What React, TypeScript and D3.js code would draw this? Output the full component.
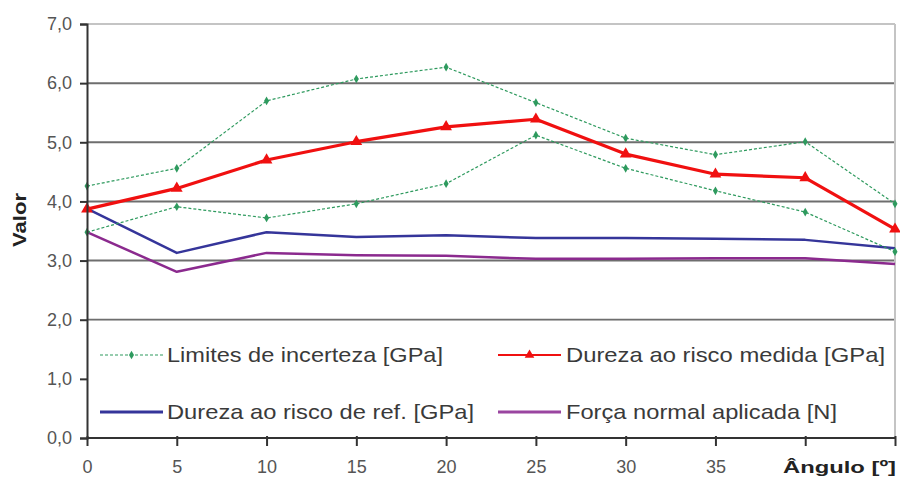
import React, { useRef, useEffect } from 'react';
import * as d3 from 'd3';

// angle categories (the last two labels are hidden under the axis title)
const angles = ['0', '5', '10', '15', '20', '25', '30', '35', '40', '45'];
const shownTickLabels = ['0', '5', '10', '15', '20', '25', '30', '35'];
const yTicks = [0, 1, 2, 3, 4, 5, 6, 7];

const limiteSuperior = [4.26, 4.56, 5.70, 6.07, 6.27, 5.67, 5.07, 4.79, 5.01, 3.96];
const limiteInferior = [3.48, 3.91, 3.72, 3.96, 4.30, 5.12, 4.56, 4.18, 3.82, 3.15];
const durezaMedida = [3.87, 4.22, 4.70, 5.01, 5.26, 5.39, 4.80, 4.46, 4.40, 3.53];
const durezaRef = [3.88, 3.13, 3.48, 3.40, 3.43, 3.38, 3.38, 3.37, 3.35, 3.21];
const forcaNormal = [3.48, 2.81, 3.13, 3.09, 3.08, 3.03, 3.03, 3.04, 3.04, 2.94];

const legendLabels = [
  'Limites de incerteza [GPa]',
  'Dureza ao risco medida [GPa]',
  'Dureza ao risco de ref. [GPa]',
  'Força normal aplicada [N]',
];

const FONT = '"Liberation Sans", Arial, sans-serif';

const Chart: React.FC = () => {
  const ref = useRef<SVGSVGElement | null>(null);

  useEffect(() => {
    if (!ref.current) return;
    const width = 900;
    const height = 479;
    const margin = { top: 24, right: 5, bottom: 41, left: 87 };

    const svg = d3.select(ref.current);
    svg.selectAll('*').remove();
    svg.attr('width', width).attr('height', height);

    const x = d3.scalePoint<string>().domain(angles).range([margin.left, width - margin.right]);
    const y = d3.scaleLinear().domain([0, 7]).range([height - margin.bottom, margin.top]);
    const x0 = margin.left;
    const x1 = width - margin.right;

    svg.append('rect').attr('width', width).attr('height', height).attr('fill', '#fff');

    // gridlines
    svg.append('g')
      .selectAll('line')
      .data(yTicks.filter(d => d > 0))
      .enter()
      .append('line')
      .attr('x1', x0)
      .attr('x2', x1)
      .attr('y1', d => y(d))
      .attr('y2', d => y(d))
      .attr('stroke', d => (d === 7 ? '#c4c4c4' : '#6e6e6e'))
      .attr('stroke-width', 2);

    // right border
    svg.append('line')
      .attr('x1', x1).attr('x2', x1)
      .attr('y1', y(7)).attr('y2', y(0))
      .attr('stroke', '#c4c4c4').attr('stroke-width', 2);

    const line = d3.line<number>()
      .x((_, i) => x(angles[i]) as number)
      .y(d => y(d));

    const addSeries = (vals: number[], color: string, w: number, dash?: string) =>
      svg.append('path')
        .datum(vals)
        .attr('fill', 'none')
        .attr('stroke', color)
        .attr('stroke-width', w)
        .attr('stroke-linejoin', 'round')
        .attr('stroke-dasharray', dash || null)
        .attr('d', line);

    addSeries(forcaNormal, '#8b2a8e', 2.5);
    addSeries(durezaRef, '#35359a', 2.5);
    addSeries(limiteSuperior, '#2e9a5e', 1.2, '3,2');
    addSeries(limiteInferior, '#2e9a5e', 1.2, '3,2');
    addSeries(durezaMedida, '#f01010', 3.2);

    // green markers
    const diamond = d3.symbol().type(d3.symbolDiamond).size(22);
    [limiteSuperior, limiteInferior].forEach(vals => {
      svg.append('g')
        .selectAll('path')
        .data(vals)
        .enter()
        .append('path')
        .attr('d', diamond)
        .attr('transform', (d, i) => `translate(${x(angles[i])},${y(d)})`)
        .attr('fill', '#2e9a5e');
    });

    // red triangles
    const tri = d3.symbol().type(d3.symbolTriangle).size(60);
    svg.append('g')
      .selectAll('path')
      .data(durezaMedida)
      .enter()
      .append('path')
      .attr('d', tri)
      .attr('transform', (d, i) => `translate(${x(angles[i])},${y(d)})`)
      .attr('fill', '#f01010');

    // legend box (covers the lower part of the plot)
    svg.append('rect')
      .attr('x', x0 + 1)
      .attr('y', y(2) + 1)
      .attr('width', x1 - x0 - 2)
      .attr('height', y(0) - y(2) - 2)
      .attr('fill', '#fff');

    const legendRows = [355, 412];
    const legendCols = [{ lx: 100, tx: 167 }, { lx: 498, tx: 566 }];
    const legendStyles = [
      { color: '#2e9a5e', w: 1.2, dash: '3,2', marker: 'diamond' },
      { color: '#f01010', w: 2.2, dash: null, marker: 'tri' },
      { color: '#35359a', w: 3, dash: null, marker: null },
      { color: '#9a45a0', w: 3, dash: null, marker: null },
    ];
    const textLengths = [276, 319, 307, 271];
    legendLabels.forEach((label, i) => {
      const col = legendCols[i % 2];
      const row = legendRows[Math.floor(i / 2)];
      const st = legendStyles[i];
      const g = svg.append('g');
      g.append('line')
        .attr('x1', col.lx).attr('x2', col.lx + 63)
        .attr('y1', row).attr('y2', row)
        .attr('stroke', st.color)
        .attr('stroke-width', st.w)
        .attr('stroke-dasharray', st.dash);
      if (st.marker) {
        g.append('path')
          .attr('d', st.marker === 'tri' ? d3.symbol().type(d3.symbolTriangle).size(40)() : diamond())
          .attr('transform', `translate(${col.lx + 31.5},${row})`)
          .attr('fill', st.color);
      }
      g.append('text')
        .attr('x', col.tx)
        .attr('y', row)
        .attr('dy', '0.35em')
        .attr('textLength', textLengths[i])
        .attr('lengthAdjust', 'spacingAndGlyphs')
        .attr('fill', '#3a3a3a')
        .style('font-family', FONT)
        .style('font-size', '21px')
        .text(label);
    });

    // y axis
    const yAxis = svg.append('g').attr('transform', `translate(${x0},0)`)
      .call(d3.axisLeft(y).tickValues(yTicks).tickSize(7).tickPadding(8)
        .tickFormat(d => d3.format('.1f')(d as number).replace('.', ',')));
    yAxis.select('.domain').attr('stroke', '#333').attr('stroke-width', 2);
    yAxis.selectAll('.tick line').attr('stroke', '#333').attr('stroke-width', 2);
    yAxis.selectAll('.tick text')
      .attr('fill', '#555')
      .style('font-family', FONT)
      .style('font-size', '18px');

    // x axis
    const xAxis = svg.append('g').attr('transform', `translate(0,${y(0)})`)
      .call(d3.axisBottom(x).tickSize(8).tickPadding(14)
        .tickFormat(d => (shownTickLabels.includes(d) ? d : '')));
    xAxis.select('.domain').attr('stroke', '#333').attr('stroke-width', 2).attr('d', `M${x0},0H${x1}`);
    xAxis.selectAll('.tick line').attr('stroke', '#333').attr('stroke-width', 2).attr('y1', -2);
    xAxis.selectAll('.tick text')
      .attr('fill', '#555')
      .style('font-family', FONT)
      .style('font-size', '18px');

    // axis titles
    svg.append('text')
      .attr('transform', `translate(26,220) rotate(-90)`)
      .attr('text-anchor', 'middle')
      .attr('textLength', 54)
      .attr('lengthAdjust', 'spacingAndGlyphs')
      .attr('fill', '#222')
      .style('font-family', FONT)
      .style('font-weight', 'bold')
      .style('font-size', '18px')
      .text('Valor');

    svg.append('text')
      .attr('x', 783)
      .attr('y', 473)
      .attr('textLength', 113)
      .attr('lengthAdjust', 'spacingAndGlyphs')
      .attr('fill', '#222')
      .style('font-family', FONT)
      .style('font-weight', 'bold')
      .style('font-size', '17px')
      .text('Ângulo [º]');
  }, []);

  return <svg ref={ref} style={{ position: 'absolute', left: 0, top: 0 }}></svg>;
};

export default function App() {
  return <Chart />;
}
